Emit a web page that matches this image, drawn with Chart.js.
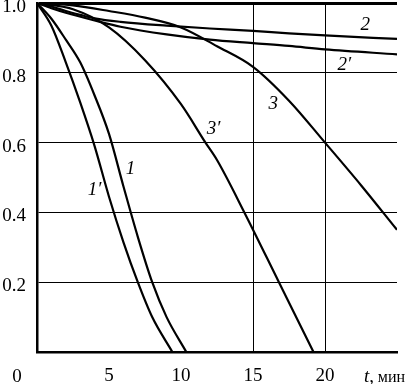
<!DOCTYPE html>
<html>
<head>
<meta charset="utf-8">
<script src="https://cdn.jsdelivr.net/npm/chart.js@4/dist/chart.umd.min.js"></script>
<style>
  body { margin: 0; background: #fff; }
</style>
</head>
<body>
<canvas id="chart" width="406" height="384"></canvas>
<script>
// time, min  /  relative value
var t1 = [0, 1, 2, 3, 4, 5, 6, 7, 8, 9, 10.37];
var v1 = [1, 0.955, 0.895, 0.83, 0.735, 0.625, 0.475, 0.33, 0.2, 0.1, 0];

var t1p = [0, 1, 2, 3, 4, 5, 6, 7, 8, 9.4];
var v1p = [1, 0.935, 0.83, 0.715, 0.59, 0.445, 0.315, 0.2, 0.1, 0];

var t2 = [0, 1, 2, 3, 4, 5.8, 9, 12, 15, 17.5, 20, 25];
var v2 = [1, 0.99, 0.977, 0.966, 0.956, 0.946, 0.935, 0.927, 0.92, 0.913, 0.907, 0.897];

var t2p = [0, 1, 2, 4, 5.8, 9, 12, 15, 17.5, 20, 25];
var v2p = [1, 0.985, 0.972, 0.95, 0.932, 0.91, 0.895, 0.885, 0.877, 0.867, 0.853];

var t3 = [0, 2.5, 5, 7.5, 10, 12.5, 15, 17.5, 20, 22.5, 25];
var v3 = [1, 0.993, 0.977, 0.958, 0.93, 0.876, 0.817, 0.72, 0.6, 0.478, 0.35];

var t3p = [0, 2.5, 5, 7.5, 10, 11.7, 12.5, 14.4, 16.8, 19.2];
var v3p = [1, 0.982, 0.93, 0.836, 0.71, 0.6, 0.55, 0.4, 0.2, 0];

var xTicks = [5, 10, 15, 20];
var xGridLines = [15, 20];

// curve names and where they sit (in data units)
var curveNames = ["1", "1\u2032", "2", "2\u2032", "3", "3\u2032"];
var nameT = [6.5, 4.0, 22.8, 21.35, 16.4, 12.27];
var nameV = [0.524, 0.464, 0.936, 0.822, 0.71, 0.639];

var FONT = '"Liberation Serif", "DejaVu Serif", serif';

function pts(ts, vs) {
    var out = [];
    for (var i = 0; i < ts.length; i++) out.push({x: ts[i], y: vs[i]});
    return out;
}

function line(ts, vs) {
    return {
        data: pts(ts, vs),
        borderColor: '#000',
        borderWidth: 2.2,
        pointRadius: 0,
        fill: false,
        cubicInterpolationMode: 'monotone'
    };
}

var textPlugin = {
    id: 'texts',
    afterDatasetsDraw: function(chart) {
        var ctx = chart.ctx;
        var xs = chart.scales.x, ys = chart.scales.y;
        ctx.save();
        ctx.fillStyle = '#000';
        ctx.textAlign = 'center';
        ctx.textBaseline = 'middle';
        ctx.font = 'italic 19px ' + FONT;
        for (var i = 0; i < curveNames.length; i++) {
            ctx.fillText(curveNames[i], xs.getPixelForValue(nameT[i]), ys.getPixelForValue(nameV[i]));
        }
        // origin label and axis title
        ctx.textBaseline = 'alphabetic';
        ctx.font = '19px ' + FONT;
        ctx.fillText('0', 17, 382);
        ctx.textAlign = 'left';
        ctx.font = 'italic 19px ' + FONT;
        ctx.fillText('t', 364, 382);
        var w = ctx.measureText('t').width;
        ctx.font = '19px ' + FONT;
        ctx.fillText(',', 364 + w, 382);
        w += ctx.measureText(', ').width;
        ctx.font = '16px ' + FONT;
        ctx.fillText('мин', 364 + w - 1, 382);
        ctx.restore();
    }
};

function draw() {
    new Chart(document.getElementById('chart'), {
        type: 'line',
        data: {
            datasets: [line(t1, v1), line(t1p, v1p), line(t2, v2), line(t2p, v2p), line(t3, v3), line(t3p, v3p)]
        },
        options: {
            responsive: false,
            animation: false,
            layout: { padding: { top: 3, right: 9, left: 0, bottom: 0 } },
            plugins: { legend: { display: false }, tooltip: { enabled: false } },
            scales: {
                x: {
                    type: 'linear',
                    min: 0,
                    max: 25,
                    afterFit: function(scale) {
                        scale.height = 32;
                        scale.paddingLeft = 0;
                        scale.paddingRight = 0;
                    },
                    afterBuildTicks: function(scale) {
                        scale.ticks = [0, 5, 10, 15, 20, 25].map(function(v) { return {value: v}; });
                    },
                    border: { color: '#000', width: 2.5 },
                    grid: {
                        drawTicks: false,
                        lineWidth: 1,
                        color: function(c) {
                            return xGridLines.indexOf(c.tick.value) >= 0 ? '#000' : 'rgba(0,0,0,0)';
                        }
                    },
                    ticks: {
                        padding: 13,
                        color: '#000',
                        font: { family: FONT, size: 19 },
                        maxRotation: 0,
                        callback: function(v) { return xTicks.indexOf(v) >= 0 ? String(v) : ''; }
                    }
                },
                y: {
                    min: 0,
                    max: 1,
                    afterFit: function(scale) {
                        scale.width = 37;
                        scale.paddingTop = 0;
                        scale.paddingBottom = 0;
                    },
                    border: { color: '#000', width: 2.5 },
                    grid: {
                        drawTicks: false,
                        color: function(c) { return c.tick.value > 0 ? '#000' : 'rgba(0,0,0,0)'; },
                        lineWidth: function(c) { return c.tick.value >= 1 ? 3 : 1; }
                    },
                    ticks: {
                        stepSize: 0.2,
                        padding: 11,
                        labelOffset: 4,
                        color: '#000',
                        font: { family: FONT, size: 19 },
                        callback: function(v) { return v > 0 ? v.toFixed(1) : ''; }
                    }
                }
            }
        },
        plugins: [textPlugin]
    });
}

if (document.fonts && document.fonts.load) {
    Promise.all([
        document.fonts.load('19px "Liberation Serif"'),
        document.fonts.load('italic 19px "Liberation Serif"')
    ]).then(draw, draw);
} else {
    draw();
}
</script>
</body>
</html>
